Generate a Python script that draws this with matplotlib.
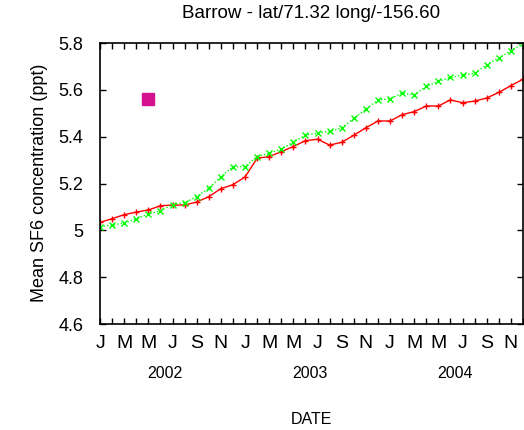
import matplotlib
matplotlib.use("Agg")
import matplotlib.pyplot as plt
import matplotlib.transforms as mtransforms
import numpy as np

plt.rcParams['font.family'] = ['Liberation Sans', 'DejaVu Sans']

# monthly means, Jan 2002 .. Dec 2004
months = np.arange(36)
red_series = [5.034, 5.050, 5.067, 5.078, 5.087, 5.105, 5.108, 5.108, 5.121, 5.144,
              5.178, 5.195, 5.228, 5.308, 5.315, 5.336, 5.358, 5.383, 5.389, 5.364,
              5.376, 5.406, 5.438, 5.467, 5.467, 5.494, 5.507, 5.531, 5.531, 5.557,
              5.545, 5.552, 5.565, 5.589, 5.618, 5.645]
green_series = [5.016, 5.023, 5.031, 5.049, 5.070, 5.083, 5.110, 5.118, 5.144, 5.180,
                5.229, 5.272, 5.272, 5.315, 5.329, 5.347, 5.377, 5.407, 5.414, 5.423,
                5.437, 5.478, 5.517, 5.557, 5.561, 5.587, 5.578, 5.615, 5.636, 5.653,
                5.663, 5.671, 5.707, 5.736, 5.766, 5.799]
square_x = [4]
square_y = [5.56]

month_labels = ["J", "M", "M", "J", "S", "N"] * 3
years = ["2002", "2003", "2004"]

fig = plt.figure(figsize=(5.24, 4.30), dpi=100)
ax = fig.add_axes([0.191, 0.2465, 0.807, 0.6535])

ax.plot(months, red_series, color="#ff0000", linestyle="-", linewidth=1.0,
        marker="+", markersize=5, markeredgewidth=1.0)
ax.plot(months, green_series, color="#00ff00", linestyle=(0, (1, 1.5)), linewidth=1.0,
        marker="x", markersize=4, markeredgewidth=1.0)
ax.plot(square_x, square_y, linestyle="none", marker="s", markersize=9,
        color="#d4118f")

ax.set_xlim(0, 35)
ax.set_ylim(4.6, 5.8)
ax.set_yticks([4.6, 4.8, 5.0, 5.2, 5.4, 5.6, 5.8])
ax.set_yticklabels(["4.6", "4.8", "5", "5.2", "5.4", "5.6", "5.8"], fontsize=13)
ax.set_xticks(np.arange(0, 36, 2))
ax.set_xticklabels(month_labels, fontsize=14)
ax.set_xticks(months, minor=True)
ax.tick_params(axis="both", which="both", direction="in", top=True, right=True,
               length=4, width=1.0)
ax.tick_params(axis="x", which="major", pad=8)
ax.tick_params(axis="y", which="major", pad=12)
for s in ax.spines.values():
    s.set_linewidth(1.2)

trans = mtransforms.blended_transform_factory(ax.transData, fig.transFigure)
for i, yr in enumerate(years):
    ax.text(12 * i + 5.4, 1 - 374 / 430, yr, transform=trans, ha="center",
            va="center", fontsize=11.5)

fig.text(311 / 524, 1 - 419 / 430, "DATE", ha="center", va="center", fontsize=11.5)
fig.text(40 / 524, 1 - 183 / 430, "Mean SF6 concentration (ppt)", rotation=90,
         ha="center", va="center", fontsize=13)
fig.text(311 / 524, 1 - 14 / 430, "Barrow - lat/71.32 long/-156.60", ha="center",
         va="center", fontsize=13.5)

fig.savefig("out.png", dpi=100)
